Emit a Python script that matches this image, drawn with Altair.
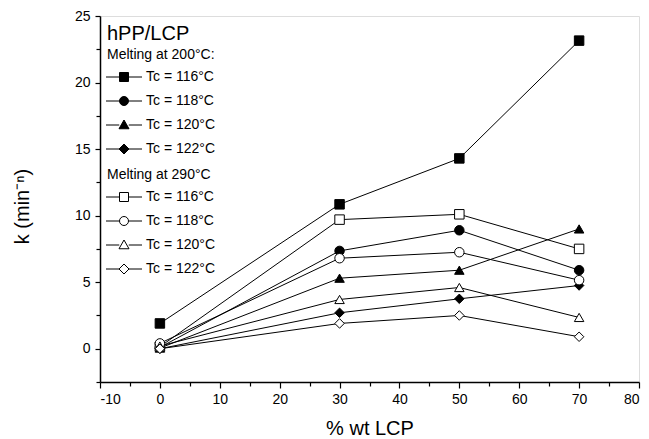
import altair as alt
import pandas as pd

lcp = [0, 30, 50, 70]
tc_labels = ["Tc = 116°C", "Tc = 118°C", "Tc = 120°C", "Tc = 122°C"]

# Melting at 200 °C (filled symbols)
k200_116 = [1.9, 10.85, 14.3, 23.15]
k200_118 = [0.1, 7.35, 8.9, 5.9]
k200_120 = [0.05, 5.3, 5.9, 9.0]
k200_122 = [0.0, 2.7, 3.75, 4.75]
# Melting at 290 °C (open symbols)
k290_116 = [0.15, 9.7, 10.1, 7.5]
k290_118 = [0.4, 6.8, 7.25, 5.15]
k290_120 = [0.2, 3.7, 4.6, 2.35]
k290_122 = [0.0, 1.9, 2.5, 0.9]

rows = []
for grp, series in [("200", [k200_116, k200_118, k200_120, k200_122]),
                    ("290", [k290_116, k290_118, k290_120, k290_122])]:
    for tc, vals in zip(tc_labels, series):
        for x, k in zip(lcp, vals):
            rows.append({"lcp": x, "k": k, "tc": tc, "grp": grp, "series": grp + tc})
df = pd.DataFrame(rows)

FONT = "Liberation Sans"

xenc = alt.X("lcp:Q", scale=alt.Scale(domain=[-10, 80], nice=False),
             axis=alt.Axis(title="% wt LCP", values=list(range(-10, 81, 5)),
                           labelExpr="datum.value % 10 === 0 ? '' + datum.value : ''",
                           tickSize={"condition": {"test": "datum.value % 10 === 0", "value": 6}, "value": 4},
                           grid=False, labelFontSize=14, titleFontSize=20, titleFontWeight="normal",
                           labelFont=FONT, titleFont=FONT, labelColor="black", titleColor="black",
                           domainColor="black", tickColor="black", domainWidth=1.5, tickWidth=1.2,
                           labelPadding=4, titlePadding=12))
yenc = alt.Y("k:Q", scale=alt.Scale(domain=[-2.5, 25], nice=False),
             axis=alt.Axis(title="k (min⁻ⁿ)", values=[v * 2.5 for v in range(-1, 11)],
                           labelExpr="datum.value % 5 === 0 ? '' + datum.value : ''",
                           tickSize={"condition": {"test": "datum.value % 5 === 0", "value": 5}, "value": 4},
                           grid=False, labelFontSize=14, titleFontSize=20, titleFontWeight="normal",
                           labelFont=FONT, titleFont=FONT, labelColor="black", titleColor="black",
                           domainColor="black", tickColor="black", domainWidth=1.5, tickWidth=1.2,
                           labelPadding=5, titlePadding=42, titleY=190, titleAlign="center"))

shape_plain = ["square", "circle", "triangle-up", "diamond"]
L = "M-3.6,0H-0.95M0.95,0H3.6"
shape_leg = [
    L + "M-0.9,-0.9H0.9V0.9H-0.9Z",
    L + "M0.9,0A0.9,0.9 0 1,0 -0.9,0A0.9,0.9 0 1,0 0.9,0Z",
    L + "M0,-1L1,0.75H-1Z",
    L + "M0,-1L1,0L0,1L-1,0Z",
]

base = alt.Chart(df)

lines = base.mark_line(color="black", strokeWidth=1).encode(x=xenc, y=yenc, detail="series:N")

def pts(grp, fill):
    return base.transform_filter(alt.datum.grp == grp).mark_point(
        filled=True, fill=fill, stroke="black", strokeWidth=1, size=90, opacity=1
    ).encode(x=xenc, y=yenc,
             shape=alt.Shape("tc:N", scale=alt.Scale(domain=tc_labels, range=shape_plain), legend=None))

def leg(grp, fill, title, ly):
    return base.transform_filter(alt.datum.grp == grp).mark_point(
        filled=False, fill=fill, stroke="black", strokeWidth=1, size=100, opacity=0
    ).encode(x=xenc, y=yenc,
             shape=alt.Shape("tc:N", scale=alt.Scale(domain=tc_labels, range=shape_leg),
                             legend=alt.Legend(title=title, orient="none", legendX=7, legendY=ly,
                                               padding=0, symbolSize=100, symbolOpacity=1,
                                               symbolStrokeWidth=1, symbolOffset=10, labelOffset=15,
                                               labelFontSize=14, titleFontSize=14, titleFontWeight="normal",
                                               labelFont=FONT, titleFont=FONT, labelColor="black",
                                               titleColor="black", rowPadding=10, titlePadding=8)))

title_txt = alt.Chart(pd.DataFrame({"t": ["hPP/LCP"]})).mark_text(
    align="left", baseline="middle", fontSize=20, font=FONT, color="black"
).encode(x=alt.value(7), y=alt.value(18), text="t:N")

chart = alt.layer(lines, pts("200", "black"), pts("290", "white"),
                  leg("200", "black", "Melting at 200°C:", 32),
                  leg("290", "white", "Melting at 290°C", 152),
                  title_txt).resolve_scale(shape="independent").properties(
    width=539, height=366,
    autosize=alt.AutoSizeParams(type="none"),
    padding={"left": 92, "top": 8, "right": 2, "bottom": 57},
).configure_view(stroke="black", strokeWidth=1.5).configure(background="white")

chart.save("out.html", embed_options={"renderer": "svg", "actions": False})
